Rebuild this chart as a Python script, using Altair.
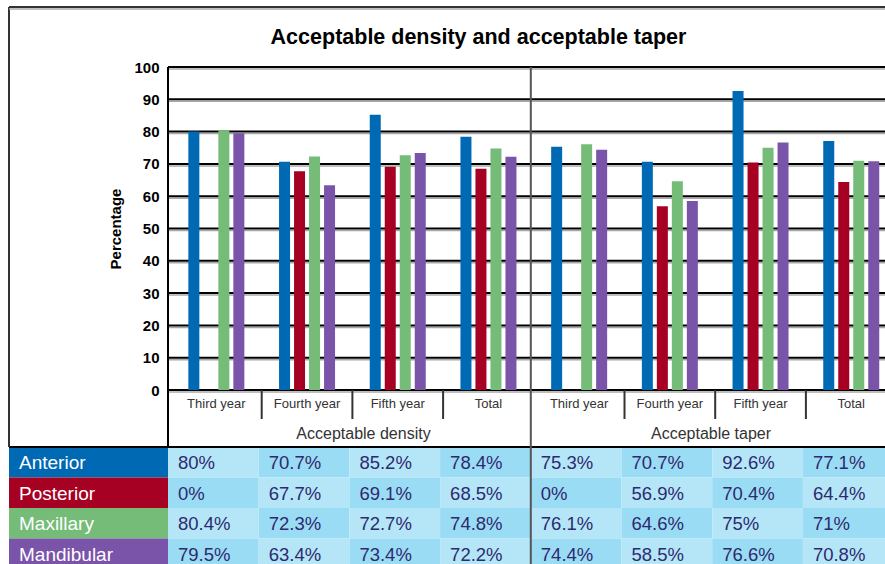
import altair as alt
import pandas as pd

# ---------------- data ----------------
series = ["Anterior", "Posterior", "Maxillary", "Mandibular"]
colors = ["#0069b4", "#a60022", "#74bc78", "#7a54a9"]
years = ["Third year", "Fourth year", "Fifth year", "Total"]
measures = ["Acceptable density", "Acceptable taper"]
anterior = [80, 70.7, 85.2, 78.4, 75.3, 70.7, 92.6, 77.1]
posterior = [0, 67.7, 69.1, 68.5, 0, 56.9, 70.4, 64.4]
maxillary = [80.4, 72.3, 72.7, 74.8, 76.1, 64.6, 75, 71]
mandibular = [79.5, 63.4, 73.4, 72.2, 74.4, 58.5, 76.6, 70.8]
y_ticks = list(range(0, 101, 10))
title_text = "Acceptable density and acceptable taper"
y_title = "Percentage"

values = [anterior, posterior, maxillary, mandibular]

# ---------------- layout (pixels) ----------------
LEFT, TOP = 168, 67
COL = 90.7
W, H = 885 - LEFT, 323
PPU = H / 100.0
XMAX = W / COL
FONT = "Liberation Sans"


def ux(px):
    return (px - LEFT) / COL


def uy(py):
    return (TOP + H - py) / PPU


BAR_W, BAR_STEP, BAR_SHIFT = 11, 15, 3
FRAME_L = ux(9)
TABLE_TOP = 447
ROW_H = 30.5

xs = alt.Scale(domain=[0, XMAX], nice=False, zero=False)
ys = alt.Scale(domain=[0, 100], nice=False, zero=False)
YAXIS = alt.Axis(
    values=y_ticks, domain=False, ticks=False, grid=False,
    labelFontSize=15, labelFontWeight="bold", labelColor="#000", labelFont=FONT,
    labelPadding=9, title=y_title, titleFont=FONT, titleFontSize=15,
    titleFontWeight="bold", titleColor="#000", titlePadding=10)
X = lambda f: alt.X(f, type="quantitative", scale=xs, axis=None)
Y = lambda f: alt.Y(f, type="quantitative", scale=ys, axis=YAXIS, title=y_title)

# ---------------- bars ----------------
bar_rows = []
for s, name in enumerate(series):
    for g in range(8):
        cx = g + 0.5 + ((s - 1.5) * BAR_STEP + BAR_SHIFT) / COL
        bar_rows.append({"series": name, "x": cx - BAR_W / 2 / COL, "x2": cx + BAR_W / 2 / COL,
                         "v": values[s][g], "z": 0})
bars_df = pd.DataFrame(bar_rows)
bars = alt.Chart(bars_df).mark_bar().encode(
    x=X("x"), x2="x2", y=Y("v"), y2="z",
    color=alt.Color("series:N", scale=alt.Scale(domain=series, range=colors), legend=None),
)

# ---------------- grid ----------------
grid_df = pd.DataFrame({"y": y_ticks, "x": 0, "x2": XMAX})
grid_shadow = alt.Chart(grid_df).mark_rule(color="#a8a8a8", strokeWidth=1.5, yOffset=2).encode(
    x=X("x"), x2="x2", y=Y("y"))
grid = alt.Chart(grid_df).mark_rule(color="#000", strokeWidth=2).encode(
    x=X("x"), x2="x2", y=Y("y"))

# ---------------- structural lines ----------------
lines_df = pd.DataFrame([
    {"x": 0, "x2": 0, "y": 100, "y2": uy(TABLE_TOP), "c": "#000"},
    {"x": FRAME_L, "x2": XMAX, "y": uy(TABLE_TOP), "y2": uy(TABLE_TOP), "c": "#000"},
    {"x": FRAME_L, "x2": XMAX, "y": uy(7), "y2": uy(7), "c": "#333"},
    {"x": FRAME_L, "x2": FRAME_L, "y": uy(7), "y2": uy(TABLE_TOP), "c": "#333"},
    {"x": 4, "x2": 4, "y": 100, "y2": uy(575), "c": "#555"},
])
sep_rows = []
for g in [1, 2, 3, 5, 6, 7]:
    xx = g + BAR_SHIFT / COL
    sep_rows.append({"x": xx, "x2": xx, "y": 0, "y2": uy(419), "c": "#333"})
lines_df = pd.concat([lines_df, pd.DataFrame(sep_rows)], ignore_index=True)
lines = alt.Chart(lines_df).mark_rule(strokeWidth=2).encode(
    x=X("x"), x2="x2", y=Y("y"), y2="y2", color=alt.Color("c:N", scale=None))
frame_shadow = alt.Chart(pd.DataFrame([{"x": FRAME_L, "x2": XMAX, "y": uy(7)}])).mark_rule(
    color="#aaa", strokeWidth=1.5, yOffset=2).encode(x=X("x"), x2="x2", y=Y("y"))

# ---------------- axis labels ----------------
cat_df = pd.DataFrame({"label": years * 2,
                       "x": [g + 0.5 + BAR_SHIFT / COL for g in range(8)],
                       "y": uy(404)})
cat_text = alt.Chart(cat_df).mark_text(font=FONT, fontSize=13, color="#333",
                                       baseline="middle", align="center").encode(
    x=X("x"), y=Y("y"), text="label:N")
grp_df = pd.DataFrame({"label": measures, "x": [ux(363.5), ux(711)], "y": uy(434)})
grp_text = alt.Chart(grp_df).mark_text(font=FONT, fontSize=16, color="#333",
                                       baseline="middle", align="center").encode(
    x=X("x"), y=Y("y"), text="label:N")
title_df = pd.DataFrame({"label": [title_text], "x": [ux(478.5)], "y": [uy(38)]})
title = alt.Chart(title_df).mark_text(font=FONT, fontSize=21.5, fontWeight="bold", color="#000",
                                      baseline="middle", align="center").encode(
    x=X("x"), y=Y("y"), text="label:N")

# ---------------- table ----------------
cell_rows = []
for r, name in enumerate(series):
    for c in range(8):
        v = values[r][c]
        cell_rows.append({"x": c, "x2": c + 1,
                          "y": uy(TABLE_TOP + ROW_H * r), "y2": uy(TABLE_TOP + ROW_H * (r + 1)),
                          "ym": uy(TABLE_TOP + ROW_H * (r + 0.5) + 1),
                          "tx": c + 10 / COL,
                          "shade": "#b4e6f8" if (r + c) % 2 == 0 else "#9bdcf5",
                          "label": f"{v:g}%"})
cells_df = pd.DataFrame(cell_rows)
cells = alt.Chart(cells_df).mark_rect().encode(
    x=X("x"), x2="x2", y=Y("y"), y2="y2", color=alt.Color("shade:N", scale=None))
cell_text = alt.Chart(cells_df).mark_text(font=FONT, fontSize=18.5, color="#2e2a6e",
                                          align="left", baseline="middle").encode(
    x=X("tx"), y=Y("ym"), text="label:N")

head_rows = []
for r, name in enumerate(series):
    head_rows.append({"series": name, "x": FRAME_L, "x2": 0,
                      "y": uy(TABLE_TOP + ROW_H * r), "y2": uy(TABLE_TOP + ROW_H * (r + 1)),
                      "ym": uy(TABLE_TOP + ROW_H * (r + 0.5) + 1), "tx": ux(19)})
head_df = pd.DataFrame(head_rows)
heads = alt.Chart(head_df).mark_rect().encode(
    x=X("x"), x2="x2", y=Y("y"), y2="y2",
    color=alt.Color("series:N", scale=alt.Scale(domain=series, range=colors), legend=None))
head_text = alt.Chart(head_df).mark_text(font=FONT, fontSize=19, color="#fff",
                                         align="left", baseline="middle").encode(
    x=X("tx"), y=Y("ym"), text="series:N")

chart = alt.layer(
    cells, heads, grid_shadow, grid, bars, lines, frame_shadow,
    cat_text, grp_text, title, cell_text, head_text,
).properties(
    width=W, height=H,
    padding={"left": LEFT, "top": TOP, "right": 0, "bottom": 564 - TOP - H},
    autosize=alt.AutoSizeParams(type="none"),
    background="white",
).configure_view(stroke=None)

chart.save("out.html", embed_options={"renderer": "svg", "actions": False})
